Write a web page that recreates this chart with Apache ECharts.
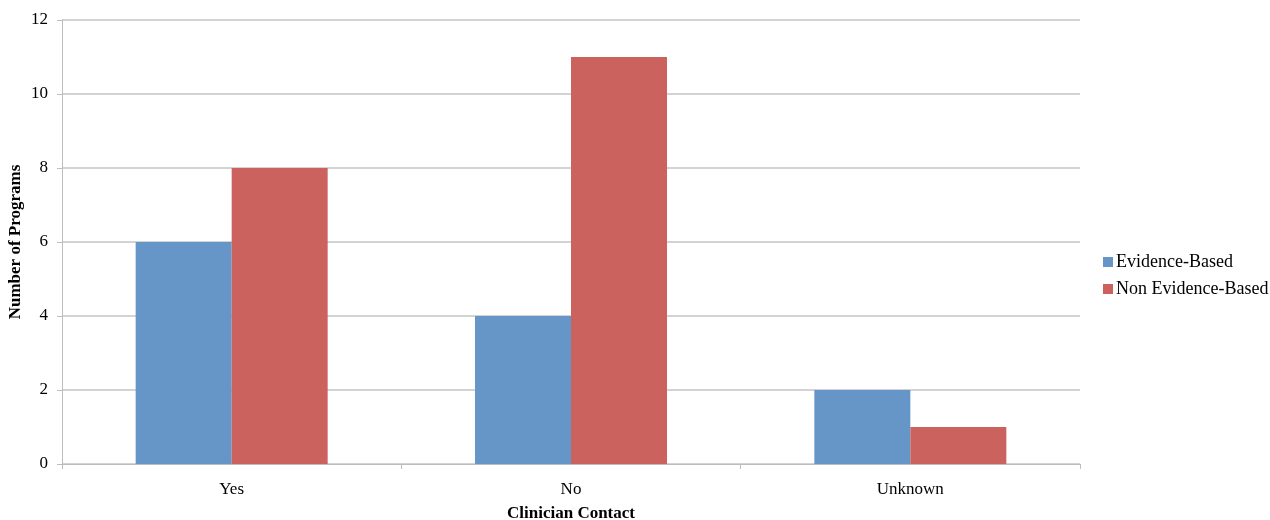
<!DOCTYPE html>
<html>
<head>
<meta charset="utf-8">
<script src="https://cdn.jsdelivr.net/npm/echarts@6/dist/echarts.min.js"></script>
<style>
  html, body { margin: 0; padding: 0; background: #fff; }
  #chart { width: 1270px; height: 520px; }
</style>
</head>
<body>
<div id="chart"></div>
<script>
// Programs by clinician contact, split by evidence base
const categories = ['Yes', 'No', 'Unknown'];
const evidenceBased = [6, 4, 2];
const nonEvidenceBased = [8, 11, 1];
const seriesNames = ['Evidence-Based', 'Non Evidence-Based'];

const FONT = '"Liberation Serif", "Times New Roman", serif';
const chart = echarts.init(document.getElementById('chart'));

chart.setOption({
  animation: false,
  textStyle: { fontFamily: FONT, color: '#000' },
  grid: { left: 62, right: 190, top: 20, bottom: 56, outerBoundsMode: 'none', containLabel: false },
  legend: {
    orient: 'vertical',
    left: 1098,
    top: 248,
    itemWidth: 10,
    itemHeight: 10,
    itemGap: 9,
    icon: 'rect',
    textStyle: { fontFamily: FONT, fontSize: 18, color: '#000', padding: [0, 0, 0, -2] },
    data: seriesNames
  },
  xAxis: {
    type: 'category',
    data: categories,
    name: 'Clinician Contact',
    nameLocation: 'middle',
    nameGap: 41,
    nameMoveOverlap: false,
    nameTextStyle: { fontFamily: FONT, fontSize: 17, fontWeight: 'bold', color: '#000' },
    axisLine: { lineStyle: { color: '#bdbdbd', width: 1 } },
    axisTick: { show: true, alignWithLabel: false, length: 5, lineStyle: { color: '#bdbdbd' } },
    axisLabel: { fontFamily: FONT, fontSize: 17, color: '#000', margin: 17 }
  },
  yAxis: {
    type: 'value',
    min: 0,
    max: 12,
    interval: 2,
    name: 'Number of Programs',
    nameLocation: 'middle',
    nameGap: 38,
    nameMoveOverlap: false,
    nameTextStyle: { fontFamily: FONT, fontSize: 17, fontWeight: 'bold', color: '#000' },
    axisLine: { show: true, lineStyle: { color: '#bdbdbd', width: 1 } },
    axisTick: { show: true, length: 5, lineStyle: { color: '#bdbdbd' } },
    axisLabel: { fontFamily: FONT, fontSize: 17, color: '#000', margin: 14 },
    splitLine: { lineStyle: { color: '#c4c4c4', width: 1.5 } }
  },
  series: [
    {
      name: seriesNames[0],
      type: 'bar',
      data: evidenceBased,
      barWidth: 96,
      barGap: '0%',
      itemStyle: { color: '#6596c7' }
    },
    {
      name: seriesNames[1],
      type: 'bar',
      data: nonEvidenceBased,
      barWidth: 96,
      barGap: '0%',
      itemStyle: { color: '#cb625e' }
    }
  ]
});
</script>
</body>
</html>
